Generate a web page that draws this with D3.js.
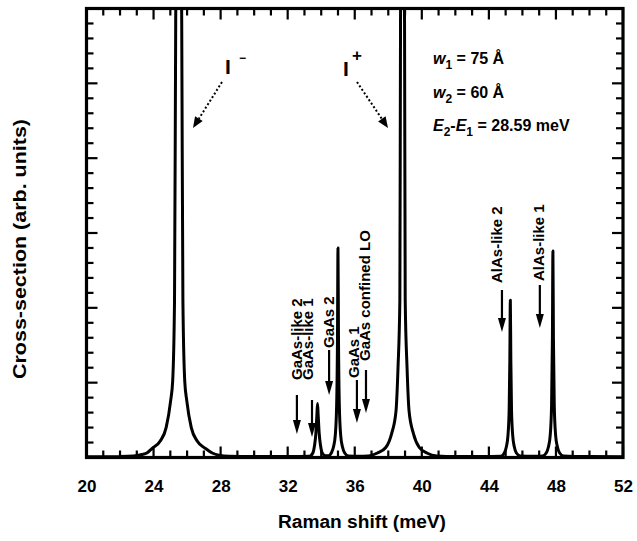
<!DOCTYPE html>
<html>
<head>
<meta charset="utf-8">
<script src="https://cdn.jsdelivr.net/npm/d3@7"></script>
<style>
  html, body { margin: 0; padding: 0; background: #fff; }
  svg { display: block; }
  text { font-family: "Liberation Sans", Arial, Helvetica, sans-serif; fill: #000; }
</style>
</head>
<body>
<svg id="chart" width="637" height="541"></svg>
<script>
// Raman spectrum of the coupled double well: shift (meV) and cross-section (arb. units)
const ramanShift = [
  20.0, 21.0, 22.0, 22.8, 23.3, 23.6, 23.9, 24.4, 24.75, 25.02, 25.14, 25.25, 25.32, 25.5,
  25.68, 25.75, 25.86, 25.98, 26.25, 26.6, 27.1, 27.5, 27.9, 28.5, 30.0, 32.0,
  33.3, 33.5, 33.6, 33.68, 33.74, 33.78, 33.82, 33.88, 33.96, 34.06, 34.25,
  34.45, 34.6, 34.73, 34.84, 34.92, 34.97, 35.0, 35.03, 35.08, 35.16, 35.27, 35.4, 35.62,
  36.2, 36.8, 37.35, 37.85, 38.2, 38.46, 38.58, 38.69, 38.73, 38.85, 38.97, 39.01, 39.12,
  39.24, 39.5, 39.85, 40.3, 40.9, 42.0, 44.0,
  44.7, 44.92, 45.04, 45.14, 45.21, 45.25, 45.28, 45.31, 45.35, 45.42, 45.52, 45.64, 45.88,
  46.6, 47.2, 47.42, 47.55, 47.66, 47.74, 47.79, 47.82, 47.85, 47.9, 47.98, 48.09, 48.22,
  48.45, 50.0, 52.0
];
const crossSection = [
  0.05, 0.05, 0.06, 0.1, 0.2, 0.3, 0.6, 1.1, 2.0, 3.8, 5.1, 10.5, 29, 48,
  29, 10.5, 5.1, 3.8, 2.0, 1.1, 0.6, 0.3, 0.15, 0.08, 0.06, 0.06,
  0.08, 0.3, 0.8, 1.6, 2.8, 3.6, 2.8, 1.6, 0.8, 0.3, 0.12,
  0.12, 0.3, 0.7, 1.5, 3.5, 8, 14.0, 8, 3.5, 1.5, 0.7, 0.3, 0.1,
  0.08, 0.1, 0.3, 0.67, 1.6, 3.1, 6, 10.5, 29, 48, 29, 10.5, 6,
  3.1, 1.6, 0.67, 0.3, 0.1, 0.06, 0.07,
  0.08, 0.3, 0.7, 1.5, 3.2, 6.5, 10.5, 6.5, 3.2, 1.5, 0.7, 0.3, 0.1,
  0.08, 0.1, 0.3, 0.7, 1.5, 3.5, 8, 13.8, 8, 3.5, 1.5, 0.7, 0.3,
  0.1, 0.06, 0.05
];

// Axis ticks
const xTickLabels = [20, 24, 28, 32, 36, 40, 44, 48, 52];
const xMinorTicks = d3.range(20, 53, 1);
const yMinorTicks = d3.range(0, 31, 1);
const yMajorTicks = d3.range(0, 31, 5);

// Phonon modes marked with arrows (meV)
const modeNames = ["GaAs-like 2", "GaAs-like 1", "GaAs 2", "GaAs 1", "GaAs confined LO", "AlAs-like 2", "AlAs-like 1"];
const modeEnergies = [32.55, 33.45, 34.47, 36.13, 36.67, 44.78, 47.04];

// Intersubband lines
const lineNames = ["I", "I"];
const lineSigns = ["\u2212", "+"];

// Sample parameters
const well1 = "75";
const well2 = "60";
const splitting = "28.59";

// ---- layout ----
const plot = { left: 86.5, right: 623, top: 8.5, bottom: 457.5 };

const svg = d3.select("#chart");
const x = d3.scaleLinear().domain([20, 52]).range([plot.left, plot.right]);
const y = d3.scaleLinear().domain([0, 30]).range([plot.bottom, plot.top]);

svg.append("defs").append("clipPath").attr("id", "plotClip")
  .append("rect")
  .attr("x", plot.left).attr("y", plot.top)
  .attr("width", plot.right - plot.left).attr("height", plot.bottom - plot.top);

// spectrum
const pts = ramanShift.map((e, i) => [e, crossSection[i]]);
const spectrumLine = d3.line().x(d => x(d[0])).y(d => y(d[1])).curve(d3.curveMonotoneX);
svg.append("path")
  .attr("clip-path", "url(#plotClip)")
  .attr("d", spectrumLine(pts))
  .attr("fill", "none")
  .attr("stroke", "#000")
  .attr("stroke-width", 3)
  .attr("stroke-linejoin", "round");

// axis titles
svg.append("text")
  .attr("x", 362).attr("y", 528)
  .attr("text-anchor", "middle")
  .attr("font-size", 18).attr("font-weight", "bold")
  .attr("textLength", 168).attr("lengthAdjust", "spacingAndGlyphs")
  .text("Raman shift (meV)");
svg.append("text")
  .attr("transform", "translate(26,249) rotate(-90)")
  .attr("text-anchor", "middle")
  .attr("font-size", 18).attr("font-weight", "bold")
  .attr("textLength", 260).attr("lengthAdjust", "spacingAndGlyphs")
  .text("Cross-section (arb. units)");

// mode arrows and labels
const arrowSpans = [[395, 434], [400, 437], [350, 395], [380, 423], [370, 413], [290, 332], [285, 328]];
const labelBottoms = [380, 380, 348, 378, 361, 283, 281];
const labelShift = [0, -4, -1, -3, -1, -5, -1];

function downArrow(g, ax, y0, y1) {
  g.append("line").attr("x1", ax).attr("x2", ax).attr("y1", y0).attr("y2", y1 - 10)
    .attr("stroke", "#000").attr("stroke-width", 2.2);
  g.append("path")
    .attr("d", `M${ax - 4},${y1 - 14} L${ax + 4},${y1 - 14} L${ax},${y1} Z`)
    .attr("fill", "#000");
}

const modes = svg.append("g");
modeNames.forEach((name, i) => {
  const ax = x(modeEnergies[i]);
  downArrow(modes, ax, arrowSpans[i][0], arrowSpans[i][1]);
  modes.append("text")
    .attr("transform", `translate(${ax + labelShift[i] + 5.5},${labelBottoms[i]}) rotate(-90)`)
    .attr("text-anchor", "start")
    .attr("font-size", 15).attr("font-weight", "bold")
    .text(name);
});

// intersubband line labels with dotted pointers
const lineLabelPos = [[225, 74], [343, 76]];
const signPos = [[239, 62], [352, 61]];
const pointers = [[[222, 82], [193, 128]], [[357, 82], [388, 128]]];
lineNames.forEach((nm, i) => {
  svg.append("text").attr("x", lineLabelPos[i][0]).attr("y", lineLabelPos[i][1])
    .attr("font-size", 21).attr("font-weight", "bold")
    .attr("font-family", '"Liberation Serif", "Times New Roman", serif').text(nm);
  svg.append("text").attr("x", signPos[i][0]).attr("y", signPos[i][1])
    .attr("font-size", i === 0 ? 12 : 17).attr("font-weight", "bold").text(lineSigns[i]);
  const [p0, p1] = pointers[i];
  const dx = p1[0] - p0[0], dy = p1[1] - p0[1];
  const L = Math.hypot(dx, dy), ux = dx / L, uy = dy / L;
  const hl = 11, hw = 4.5;
  const bx = p1[0] - ux * hl, by = p1[1] - uy * hl;
  svg.append("line")
    .attr("x1", p0[0]).attr("y1", p0[1]).attr("x2", bx).attr("y2", by)
    .attr("stroke", "#000").attr("stroke-width", 2).attr("stroke-dasharray", "2,2.2");
  svg.append("path")
    .attr("d", `M${bx - uy * hw},${by + ux * hw} L${bx + uy * hw},${by - ux * hw} L${p1[0]},${p1[1]} Z`)
    .attr("fill", "#000");
});

// sample parameters
const info = svg.append("g").attr("font-size", 16).attr("font-weight", "bold");
function paramLine(yb, parts) {
  const t = info.append("text").attr("x", 433).attr("y", yb);
  parts.forEach(p => {
    const s = t.append("tspan").text(p.t);
    if (p.i) s.attr("font-style", "italic");
    if (p.sub) s.attr("font-size", 12).attr("dy", 5);
    if (p.up) s.attr("dy", -5);
  });
}
paramLine(64, [{ t: "w", i: true }, { t: "1", sub: true }, { t: " = " + well1 + " \u00C5", up: true }]);
paramLine(98, [{ t: "w", i: true }, { t: "2", sub: true }, { t: " = " + well2 + " \u00C5", up: true }]);
paramLine(131, [{ t: "E", i: true }, { t: "2", sub: true }, { t: "-", up: true }, { t: "E", i: true },
  { t: "1", sub: true }, { t: " = " + splitting + " meV", up: true }]);

// frame
svg.append("rect")
  .attr("x", plot.left).attr("y", plot.top)
  .attr("width", plot.right - plot.left).attr("height", plot.bottom - plot.top)
  .attr("fill", "none").attr("stroke", "#000").attr("stroke-width", 3.2);

// inward tick marks on all four sides, placed with the scales
const minorLen = 7, majorLen = 11;
const xMajorSet = new Set(xTickLabels);
const yMajorSet = new Set(yMajorTicks);
const ticks = svg.append("g").attr("stroke", "#000").attr("stroke-width", 2.2);
[plot.bottom, plot.top].forEach((edge, side) => {
  const dir = side === 0 ? -1 : 1;
  ticks.selectAll(null).data(xMinorTicks).join("line")
    .attr("x1", d => x(d)).attr("x2", d => x(d))
    .attr("y1", edge)
    .attr("y2", d => edge + dir * (xMajorSet.has(d) ? majorLen : minorLen));
});
[plot.left, plot.right].forEach((edge, side) => {
  const dir = side === 0 ? 1 : -1;
  ticks.selectAll(null).data(yMinorTicks).join("line")
    .attr("y1", d => y(d)).attr("y2", d => y(d))
    .attr("x1", edge)
    .attr("x2", d => edge + dir * (yMajorSet.has(d) ? majorLen : minorLen));
});

// tick labels
const xAxis = svg.append("g").attr("transform", `translate(0,${plot.bottom})`)
  .call(d3.axisBottom(x).tickValues(xTickLabels).tickSize(0).tickPadding(22).tickFormat(d3.format("d")));
xAxis.select(".domain").remove();
xAxis.selectAll(".tick text").attr("font-size", 17).attr("font-weight", "bold")
  .attr("font-family", '"Liberation Sans", Arial, sans-serif').attr("fill", "#000");
</script>
</body>
</html>
